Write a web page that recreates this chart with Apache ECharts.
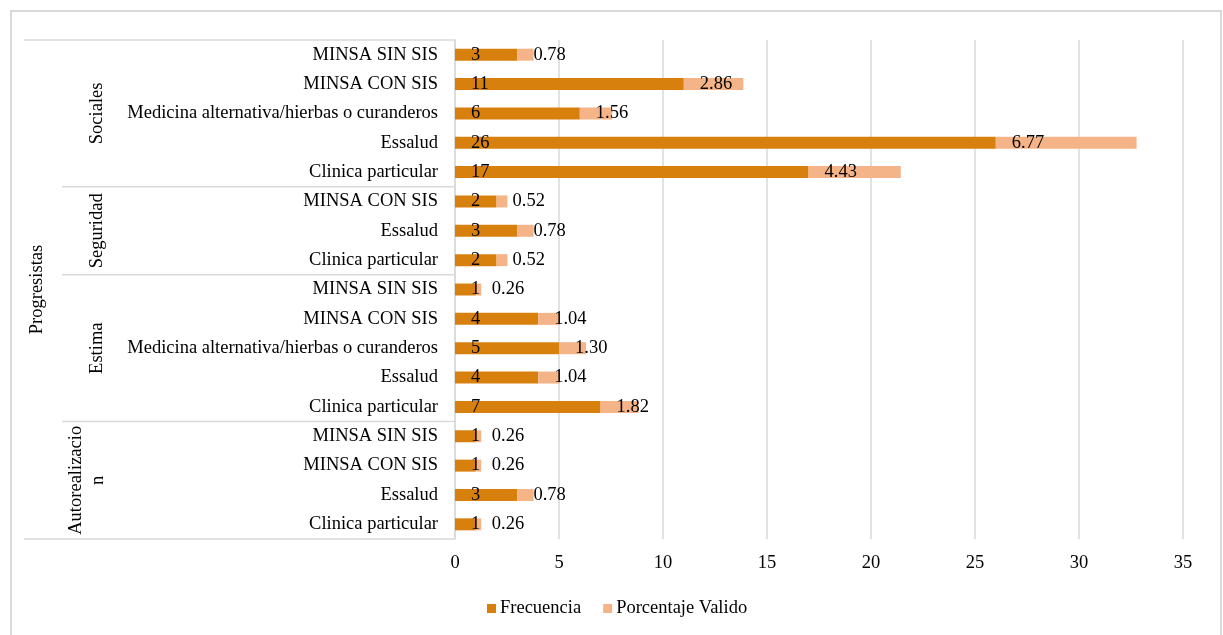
<!DOCTYPE html>
<html><head><meta charset="utf-8">
<script src="https://cdn.jsdelivr.net/npm/echarts@6/dist/echarts.min.js"></script>
<style>html,body{margin:0;padding:0;background:#fff}#c{width:1223px;height:635px}</style>
</head><body><div id="c"></div>
<script>
// ---- data ----
const topLevel = 'Progresistas';
const groupNames = ['Sociales','Seguridad','Estima','Autorealizacio\nn'];
const rowGroup = [0,0,0,0,0, 1,1,1, 2,2,2,2,2, 3,3,3,3];
const leafLabels = [
  'MINSA SIN SIS','MINSA CON SIS','Medicina alternativa/hierbas o curanderos','Essalud','Clinica particular',
  'MINSA CON SIS','Essalud','Clinica particular',
  'MINSA SIN SIS','MINSA CON SIS','Medicina alternativa/hierbas o curanderos','Essalud','Clinica particular',
  'MINSA SIN SIS','MINSA CON SIS','Essalud','Clinica particular'
];
const frecuencia = [3,11,6,26,17, 2,3,2, 1,4,5,4,7, 1,1,3,1];
const porcentaje = [0.78,2.86,1.56,6.77,4.43, 0.52,0.78,0.52, 0.26,1.04,1.30,1.04,1.82, 0.26,0.26,0.78,0.26];
const seriesNames = ['Frecuencia','Porcentaje Valido'];
const xMin = 0, xMax = 35, xStep = 5;

// ---- style ----
const FONT = 'Liberation Serif, Times New Roman, serif';
const FS = 18.5;
const GRID_COLOR = '#d9d9d9';
const colors = ['#D8800E','#F5B487'];

const rowKeys = leafLabels.map((l,i)=> i + '|' + l);

const chart = echarts.init(document.getElementById('c'), null, {renderer:'canvas'});
const labelCfg = (fmt) => ({
  show:true, position:[16,'50%'], align:'left', verticalAlign:'middle',
  fontFamily:FONT, fontSize:FS, color:'#000', formatter:fmt
});
chart.setOption({
  animation:false,
  backgroundColor:'#fff',
  textStyle:{fontFamily:FONT},
  grid:{left:455, right:40, top:40, bottom:96, containLabel:false},
  legend:{
    data:seriesNames, left:482, top:594, itemWidth:9, itemHeight:9, itemGap:22,
    icon:'rect', textStyle:{fontFamily:FONT, fontSize:FS, color:'#000', padding:[0,0,0,-1]}
  },
  xAxis:{
    type:'value', min:xMin, max:xMax, interval:xStep,
    axisLine:{show:false}, axisTick:{show:false},
    axisLabel:{margin:15, fontFamily:FONT, fontSize:FS, color:'#000'},
    splitLine:{show:true, lineStyle:{color:GRID_COLOR, width:1.5}}
  },
  yAxis:{
    type:'category', inverse:true, data:rowKeys,
    axisLine:{show:true, lineStyle:{color:GRID_COLOR, width:1.5}},
    axisTick:{show:false},
    axisLabel:{margin:17, fontFamily:FONT, fontSize:FS, color:'#000', interval:0,
      formatter:(v)=> v.split('|')[1]}
  },
  series:[
    {name:seriesNames[0], type:'bar', stack:'s', data:frecuencia, barWidth:12,
      itemStyle:{color:colors[0]}, label:labelCfg(p=>String(p.value))},
    {name:seriesNames[1], type:'bar', stack:'s', data:porcentaje, barWidth:12,
      itemStyle:{color:colors[1]}, label:labelCfg(p=>p.value.toFixed(2))}
  ]
});

// ---- multi-level category table (positions from the axis scale) ----
const py = i => chart.convertToPixel({yAxisIndex:0}, i);
const x0 = chart.convertToPixel({xAxisIndex:0}, xMin);
const step = py(1) - py(0);
const n = leafLabels.length;
const topY = py(0) - step/2, botY = py(n-1) + step/2;
const g = [];
const line = (x1,y1,x2,y2,w) => ({type:'line', silent:true,
  shape:{x1,y1,x2,y2}, style:{stroke:GRID_COLOR, lineWidth:w||1.5}});
g.push({type:'rect', silent:true, shape:{x:11, y:11, width:1210, height:700},
  style:{fill:null, stroke:GRID_COLOR, lineWidth:2}});
g.push(line(24, topY, x0, topY));
g.push(line(24, botY, x0, botY));
groupNames.forEach((name, gi) => {
  const idx = rowGroup.map((r,i)=> r===gi ? i : -1).filter(i=>i>=0);
  const first = idx[0], last = idx[idx.length-1];
  const cy = (py(first) + py(last)) / 2;
  const multi = name.indexOf('\n') >= 0;
  g.push({type:'text', silent:true, x: multi ? 87 : 97, y: cy, rotation: Math.PI/2,
    style:{text:name, fontFamily:FONT, fontSize:FS, fill:'#000',
      align:'center', verticalAlign:'middle', lineHeight:22}});
  if (last < n-1) {
    const sy = (py(last) + py(last+1)) / 2;
    g.push(line(62, sy, x0, sy));
  }
});
g.push({type:'text', silent:true, x:37, y:(topY+botY)/2, rotation:Math.PI/2,
  style:{text:topLevel, fontFamily:FONT, fontSize:FS, fill:'#000',
    align:'center', verticalAlign:'middle'}});
chart.setOption({graphic:g});
</script>
</body></html>
